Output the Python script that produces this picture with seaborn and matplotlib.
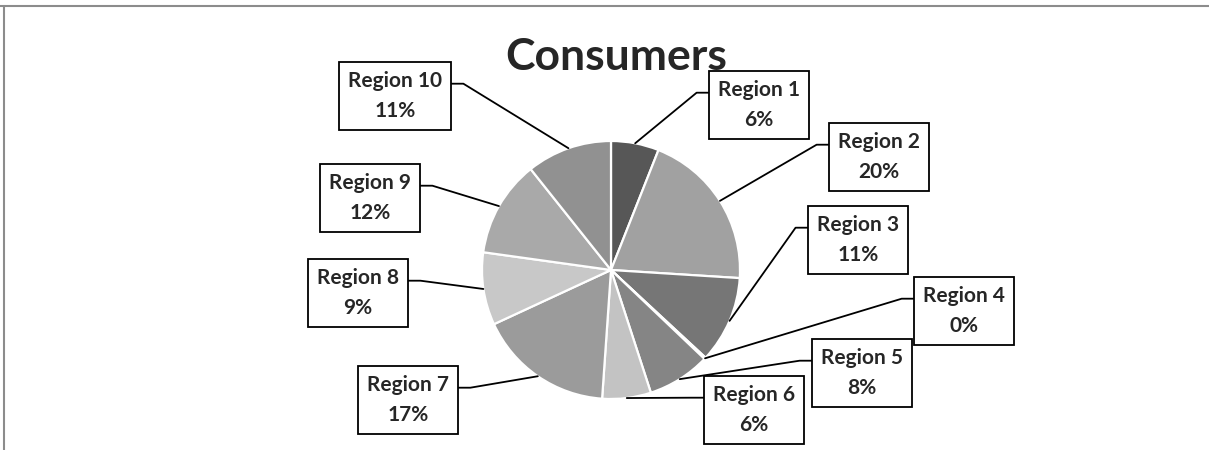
import numpy as np
import seaborn as sns
import matplotlib.pyplot as plt
from matplotlib.lines import Line2D

# Dados
regioes = ['Region 1', 'Region 2', 'Region 3', 'Region 4', 'Region 5',
           'Region 6', 'Region 7', 'Region 8', 'Region 9', 'Region 10']
participacao = [6.0, 20.0, 10.9, 0.2, 7.9, 6.1, 17.0, 9.1, 12.1, 10.7]
cores = ['#575757', '#a1a1a1', '#767676', '#7d7d7d', '#858585',
         '#c3c3c3', '#9b9b9b', '#c8c8c8', '#a9a9a9', '#919191']

# Posição das caixas dos rótulos (pixels da imagem, origem no topo)
pos_rotulos = [(759, 105), (879, 157), (858, 240), (964, 311), (862, 373),
               (754, 410), (408, 400), (358, 293), (370, 198), (395, 96)]

sns.set_style('white')
plt.rcParams['font.family'] = ['Lato', 'DejaVu Sans']

W, H = 1209, 450
fig = plt.figure(figsize=(W / 100, H / 100), dpi=100)
ax = fig.add_axes([0, 0, 1, 1])

cx, cy, raio = 611, H - 270, 129
fatias, _ = ax.pie(participacao, colors=cores, startangle=90, counterclock=False,
                   center=(cx, cy), radius=raio, frame=True,
                   wedgeprops=dict(edgecolor='white', linewidth=1.6))
ax.set_xlim(0, W)
ax.set_ylim(0, H)
ax.set_aspect('equal')
ax.axis('off')

ax.text(616, H - 57, 'Consumers', fontsize=32, fontweight='bold',
        ha='center', va='center', zorder=1)

pct = np.array(participacao) / sum(participacao) * 100
textos = []
for nome, p, (bx, by) in zip(regioes, pct, pos_rotulos):
    t = ax.text(bx, H - by, f'{nome}\n{p:.0f}%', fontsize=15, fontweight='bold',
                ha='center', va='center', linespacing=1.6, zorder=6,
                bbox=dict(boxstyle='square,pad=0.45', fc='white', ec='black', lw=1.3))
    textos.append(t)

fig.canvas.draw()
inv = ax.transData.inverted()
for w, t, (bx, by) in zip(fatias, textos, pos_rotulos):
    ang = np.deg2rad((w.theta1 + w.theta2) / 2)
    ex, ey = cx + raio * np.cos(ang), cy + raio * np.sin(ang)
    bb = t.get_bbox_patch().get_window_extent().transformed(inv)
    ya = bb.y1 - 0.32 * bb.height
    if bx > cx:
        xa, xc = bb.x0, bb.x0 - 12
    else:
        xa, xc = bb.x1, bb.x1 + 12
    ax.plot([ex, xc, xa], [ey, ya, ya], color='black', lw=1.3, zorder=5)

# Borda do gráfico (topo e esquerda)
fig.add_artist(Line2D([0, 1], [1 - 6 / H] * 2, transform=fig.transFigure,
                      color='#8c8c8c', lw=1.5))
fig.add_artist(Line2D([4 / W] * 2, [0, 1 - 6 / H], transform=fig.transFigure,
                      color='#8c8c8c', lw=1.5))

fig.savefig('out.png', dpi=100)
